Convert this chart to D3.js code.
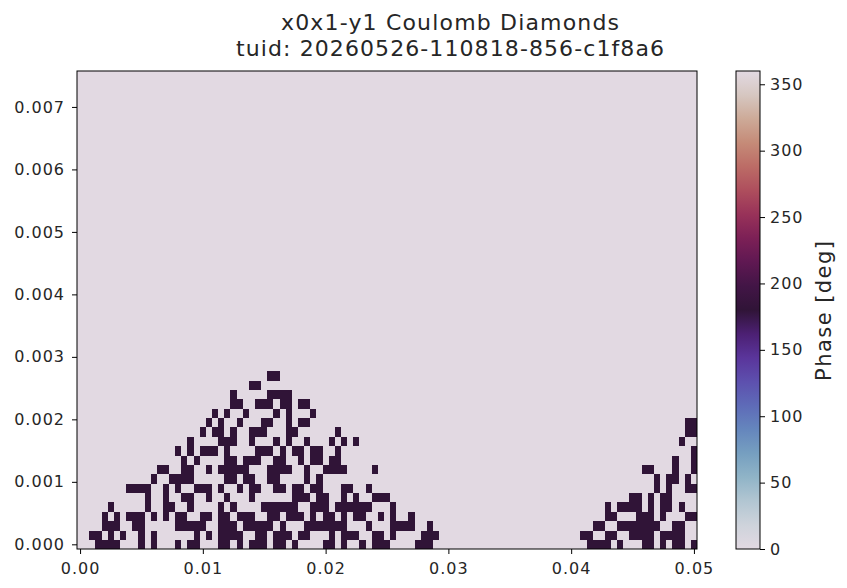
<!DOCTYPE html>
<html>
<head>
<meta charset="utf-8">
<script src="https://cdn.jsdelivr.net/npm/d3@7"></script>
<style>
  html, body { margin: 0; padding: 0; background: #ffffff; }
  svg { display: block; }
  text { font-family: "DejaVu Sans", sans-serif; fill: #262626; }
</style>
</head>
<body>
<svg id="chart" width="847" height="588"></svg>
<script>
// ---------------- data ----------------
const titleLines = ["x0x1-y1 Coulomb Diamonds", "tuid: 20260526-110818-856-c1f8a6"];
const colorbarLabel = "Phase [deg]";

// measurement grid (x0x1 and y1 setpoints)
const xStart = 0.0, xStop = 0.05, xCount = 101;
const yStart = 0.0, yStop = 0.0075, yCount = 51;

const xTicks = [0.00, 0.01, 0.02, 0.03, 0.04, 0.05];
const yTicks = [0.000, 0.001, 0.002, 0.003, 0.004, 0.005, 0.006, 0.007];
const cTicks = [0, 50, 100, 150, 200, 250, 300, 350];

// phase levels seen in the picture
const phaseHigh = 360;   // background cells
const phaseLow = 180;    // dark cells

// column indices of the dark (~180 deg) cells, one list per y row (row 0 = lowest)
const darkCellsByRow = [
  [3,4,5,6,10,12,16,18,19,23,24,26,28,29,30,32,33,35,40,41,43,46,48,49,50,55,56,57,83,84,85,86,88,92,93,95,97,98,100],
  [2,3,5,7,10,12,19,21,23,24,25,26,29,30,32,33,34,36,37,41,43,44,45,48,49,51,56,57,58,82,83,86,87,90,91,92,93,95,96,97,98],
  [4,5,6,9,10,16,17,18,19,20,23,24,25,27,28,29,30,31,33,37,38,39,40,41,42,43,47,51,52,53,54,57,84,85,88,89,90,91,92,93,94,97,98],
  [4,6,8,9,10,12,14,16,17,20,21,23,24,26,27,28,31,32,34,35,36,38,40,41,43,45,46,49,51,54,86,87,91,92,93,95,99,100],
  [5,11,14,15,18,23,25,30,31,32,33,34,35,38,39,40,42,43,44,45,46,47,51,86,88,89,90,91,93,95,96,98],
  [11,14,17,18,21,24,28,35,36,37,39,40,43,45,48,49,50,90,91,93,95,96],
  [8,9,10,11,14,16,19,20,21,23,26,28,29,32,33,35,36,38,39,43,44,47,94,96,99,100],
  [12,15,16,17,18,24,25,27,28,31,32,37,39,94,96,97,99],
  [13,14,17,18,21,23,24,25,26,27,31,32,33,34,37,40,41,42,43,48,92,93,97,100],
  [17,19,24,25,27,28,29,32,33,36,38,39,41,42,97,100],
  [16,18,20,21,22,24,29,30,31,33,35,36,38,39,42,100],
  [18,23,24,25,28,32,34,37,41,43,45,98],
  [20,22,23,25,28,29,30,34,35,42,99,100],
  [21,23,26,30,31,34,36,37,99,100],
  [22,24,27,32,34,38],
  [25,26,29,30,31,33,34,36,37],
  [25,31,32,33,34],
  [28,29],
  [31,32]
];

// twilight colour map stops [position, r, g, b]
const twilightStops = [
  [0.00,226,217,226],[0.05,206,211,219],[0.10,178,198,210],[0.15,144,180,199],
  [0.20,118,159,192],[0.25,101,134,189],[0.30,94,107,184],[0.35,93,80,174],
  [0.40,90,53,155],[0.45,76,32,115],[0.50,48,20,55],[0.55,66,21,70],
  [0.60,95,24,82],[0.65,124,32,86],[0.70,152,50,89],[0.75,174,78,93],
  [0.80,188,108,102],[0.85,197,139,120],[0.90,205,170,152],[0.95,214,199,193],
  [1.00,226,217,226]
];

// ---------------- build ----------------
const xValues = d3.range(xCount).map(i => xStart + i * (xStop - xStart) / (xCount - 1));
const yValues = d3.range(yCount).map(j => yStart + j * (yStop - yStart) / (yCount - 1));
const dx = xValues[1] - xValues[0];
const dy = yValues[1] - yValues[0];

const cells = [];
yValues.forEach((yv, j) => {
  const dark = new Set(darkCellsByRow[j] || []);
  xValues.forEach((xv, i) => {
    cells.push({ x: xv, y: yv, phase: dark.has(i) ? phaseLow : phaseHigh });
  });
});

const svg = d3.select("#chart");
const plot = { left: 77, right: 697, top: 71, bottom: 549 };
const cbar = { left: 736, right: 760, top: 71, bottom: 549 };

const x = d3.scaleLinear()
  .domain([xValues[0] - dx / 2, xValues[xValues.length - 1] + dx / 2])
  .range([plot.left, plot.right]);
const y = d3.scaleLinear()
  .domain([yValues[0] - dy / 2, yValues[yValues.length - 1] + dy / 2])
  .range([plot.bottom, plot.top]);

const colorInterp = d3.scaleLinear()
  .domain(twilightStops.map(s => s[0]))
  .range(twilightStops.map(s => d3.rgb(s[1], s[2], s[3]).toString()))
  .interpolate(d3.interpolateRgb)
  .clamp(true);
const cNorm = d3.scaleLinear().domain([0, 360]).range([0, 1]).clamp(true);
const color = v => colorInterp(cNorm(v));

// heatmap cells
svg.append("g")
  .attr("shape-rendering", "crispEdges")
  .selectAll("rect")
  .data(cells)
  .join("rect")
  .attr("x", d => x(d.x - dx / 2))
  .attr("y", d => y(d.y + dy / 2))
  .attr("width", d => x(d.x + dx / 2) - x(d.x - dx / 2) + 0.3)
  .attr("height", d => y(d.y - dy / 2) - y(d.y + dy / 2) + 0.3)
  .attr("fill", d => color(d.phase));

// axes
const tickFont = 16;
const xAxis = d3.axisBottom(x).tickValues(xTicks).tickFormat(d3.format(".2f")).tickSize(5).tickPadding(9);
const yAxis = d3.axisLeft(y).tickValues(yTicks).tickFormat(d3.format(".3f")).tickSize(5).tickPadding(7);

const gx = svg.append("g").attr("transform", `translate(0,${plot.bottom})`).call(xAxis);
const gy = svg.append("g").attr("transform", `translate(${plot.left},0)`).call(yAxis);
[gx, gy].forEach(g => {
  g.select(".domain").remove();
  g.selectAll(".tick line").attr("stroke", "#000").attr("stroke-width", 1);
  g.selectAll(".tick text")
    .attr("font-family", "DejaVu Sans, sans-serif")
    .attr("font-size", tickFont)
    .style("letter-spacing", "1px")
    .attr("fill", "#303030");
});

// frame
svg.append("rect")
  .attr("x", plot.left).attr("y", plot.top)
  .attr("width", plot.right - plot.left).attr("height", plot.bottom - plot.top)
  .attr("fill", "none").attr("stroke", "#000").attr("stroke-width", 1);

// colorbar
const cy = d3.scaleLinear().domain([0, 360]).range([cbar.bottom, cbar.top]);
const defs = svg.append("defs");
const grad = defs.append("linearGradient").attr("id", "twilightGrad")
  .attr("x1", "0").attr("y1", "1").attr("x2", "0").attr("y2", "0");
grad.selectAll("stop")
  .data(twilightStops)
  .join("stop")
  .attr("offset", s => s[0])
  .attr("stop-color", s => d3.rgb(s[1], s[2], s[3]).toString());
svg.append("rect")
  .attr("x", cbar.left).attr("y", cbar.top)
  .attr("width", cbar.right - cbar.left).attr("height", cbar.bottom - cbar.top)
  .attr("fill", "url(#twilightGrad)")
  .attr("stroke", "#000").attr("stroke-width", 1);

const cAxis = d3.axisRight(cy).tickValues(cTicks).tickFormat(d3.format("d")).tickSize(5).tickPadding(5);
const gc = svg.append("g").attr("transform", `translate(${cbar.right},0)`).call(cAxis);
gc.select(".domain").remove();
gc.selectAll(".tick line").attr("stroke", "#000");
gc.selectAll(".tick text")
  .attr("font-family", "DejaVu Sans, sans-serif")
  .attr("font-size", tickFont)
  .style("letter-spacing", "1px")
  .attr("fill", "#303030");

svg.append("text")
  .attr("transform", `translate(831,${(cbar.top + cbar.bottom) / 2 + 1}) rotate(-90)`)
  .attr("text-anchor", "middle")
  .attr("font-size", 21)
  .attr("textLength", 140)
  .attr("lengthAdjust", "spacing")
  .text(colorbarLabel);

// title (centred on the figure content, not on the axes)
const titleCenter = 450;
svg.append("text")
  .attr("x", titleCenter).attr("y", 30)
  .attr("text-anchor", "middle").attr("font-size", 22)
  .attr("textLength", 338)
  .attr("lengthAdjust", "spacing")
  .text(titleLines[0]);
svg.append("text")
  .attr("x", titleCenter).attr("y", 56)
  .attr("text-anchor", "middle").attr("font-size", 22)
  .attr("textLength", 428)
  .attr("lengthAdjust", "spacing")
  .text(titleLines[1]);
</script>
</body>
</html>
